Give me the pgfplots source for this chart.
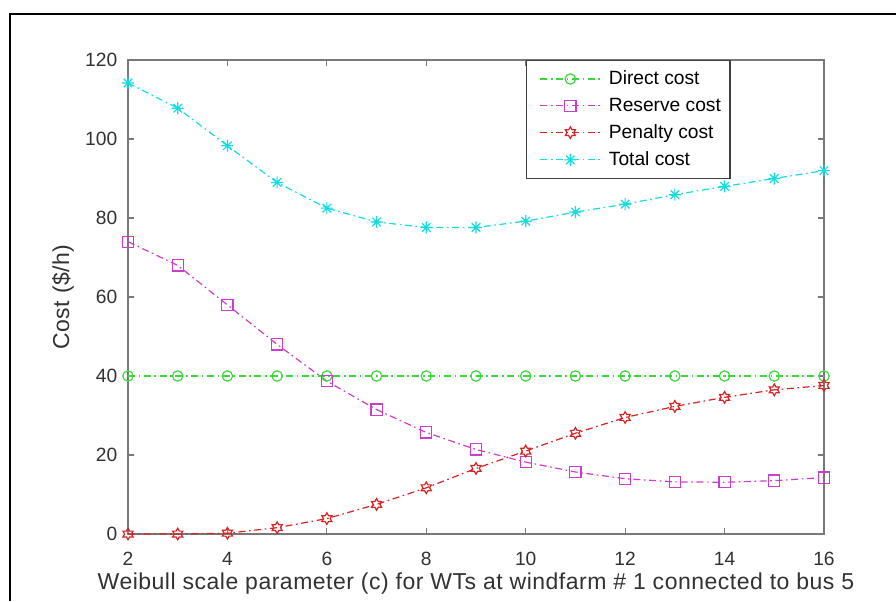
\documentclass[border=0pt]{standalone}
\usepackage{fontspec}
\setmainfont{Liberation Sans}
\newfontfamily\labelfont[LetterSpace=2.2]{Liberation Sans}
\usepackage{pgfplots}
\pgfplotsset{compat=1.18}

\definecolor{axgray}{RGB}{120,120,120}
\definecolor{lblgray}{RGB}{50,50,50}
\definecolor{cgreen}{RGB}{60,215,60}
\definecolor{cmag}{RGB}{205,60,205}
\definecolor{cred}{RGB}{215,35,35}
\definecolor{ccyan}{RGB}{20,220,225}

% six-pointed star outline
\pgfdeclareplotmark{hexagram}{%
  \pgfpathmoveto{\pgfqpointpolar{90}{\pgfplotmarksize}}%
  \pgfpathlineto{\pgfqpointpolar{120}{0.577\pgfplotmarksize}}%
  \pgfpathlineto{\pgfqpointpolar{150}{\pgfplotmarksize}}%
  \pgfpathlineto{\pgfqpointpolar{180}{0.577\pgfplotmarksize}}%
  \pgfpathlineto{\pgfqpointpolar{210}{\pgfplotmarksize}}%
  \pgfpathlineto{\pgfqpointpolar{240}{0.577\pgfplotmarksize}}%
  \pgfpathlineto{\pgfqpointpolar{270}{\pgfplotmarksize}}%
  \pgfpathlineto{\pgfqpointpolar{300}{0.577\pgfplotmarksize}}%
  \pgfpathlineto{\pgfqpointpolar{330}{\pgfplotmarksize}}%
  \pgfpathlineto{\pgfqpointpolar{0}{0.577\pgfplotmarksize}}%
  \pgfpathlineto{\pgfqpointpolar{30}{\pgfplotmarksize}}%
  \pgfpathlineto{\pgfqpointpolar{60}{0.577\pgfplotmarksize}}%
  \pgfpathclose
  \pgfusepathqstroke}
% eight-spoke asterisk
\pgfdeclareplotmark{matstar}{%
  \pgfpathmoveto{\pgfqpointpolar{0}{\pgfplotmarksize}}\pgfpathlineto{\pgfqpointpolar{180}{\pgfplotmarksize}}%
  \pgfpathmoveto{\pgfqpointpolar{90}{\pgfplotmarksize}}\pgfpathlineto{\pgfqpointpolar{270}{\pgfplotmarksize}}%
  \pgfpathmoveto{\pgfqpointpolar{45}{\pgfplotmarksize}}\pgfpathlineto{\pgfqpointpolar{225}{\pgfplotmarksize}}%
  \pgfpathmoveto{\pgfqpointpolar{135}{\pgfplotmarksize}}\pgfpathlineto{\pgfqpointpolar{315}{\pgfplotmarksize}}%
  \pgfusepathqstroke}

\tikzset{dashdot/.style={dash pattern=on 3.5pt off 1.8pt on 0.8pt off 1.8pt}}

\begin{document}
\begin{tikzpicture}
\fontsize{9.6}{11.5}\selectfont
\fill[white] (0,0) rectangle (448pt,300.5pt);
\useasboundingbox (0,0) rectangle (448pt,300.5pt);
\draw[black, line width=1pt] (5pt,0) -- (5pt,293.5pt) -- (448pt,293.5pt);
\begin{axis}[
  at={(64pt,33.5pt)}, anchor=south west,
  scale only axis, width=348pt, height=237pt,
  xmin=2, xmax=16, ymin=0, ymax=120,
  xtick={2,4,...,16}, ytick={0,20,...,120},
  tick align=inside, major tick length=3pt,
  axis line style={axgray, line width=0.6pt},
  every tick/.style={axgray, line width=0.6pt},
  tick label style={font=\fontsize{9.6}{11.5}\selectfont, text=lblgray},
  /pgf/number format/assume math mode=true,
  xticklabel style={yshift=-5.5pt},
  yticklabel style={xshift=-2pt},
  xlabel={Weibull scale parameter (c) for WTs at windfarm \# 1 connected to bus 5},
  ylabel={Cost (\$/h)},
  label style={font=\labelfont\fontsize{11.5}{13}\selectfont, text=lblgray},
  xlabel style={at={(axis description cs:0.5,-0.118)}, anchor=base},
  ylabel style={at={(axis description cs:-0.0934,0.5)}, anchor=center},
  legend style={at={(0.572,1)}, anchor=north west, draw=black!75, line width=0.6pt,
    font=\fontsize{9.6}{11.5}\selectfont, inner xsep=2.5pt, inner ysep=3pt,
    row sep=1.2pt, nodes={inner sep=2pt, text=black}},
  legend cell align=left,
  legend image code/.code={%
    \path (0pt,0pt) (36pt,0pt);
    \draw[mark repeat=2, mark phase=2, #1] plot coordinates {(4pt,0pt) (19pt,0pt) (34pt,0pt)};},
  every axis plot/.append style={line width=0.6pt, dashdot, mark options={solid}},
]
\addplot[cgreen, mark=o, mark size=2.6pt] coordinates {
 (2,40) (3,40) (4,40) (5,40) (6,40) (7,40) (8,40) (9,40) (10,40) (11,40) (12,40) (13,40) (14,40) (15,40) (16,40)};
\addlegendentry{Direct cost}
\addplot[cmag, mark=square, mark size=2.8pt] coordinates {
 (2,74) (3,68) (4,58) (5,48) (6,38.7) (7,31.5) (8,25.7) (9,21.4) (10,18.2) (11,15.7) (12,14) (13,13.2) (14,13.1) (15,13.5) (16,14.3)};
\addlegendentry{Reserve cost}
\addplot[cred, mark=hexagram, mark size=2.9pt] coordinates {
 (2,0) (3,0) (4,0.2) (5,1.6) (6,3.9) (7,7.5) (8,11.7) (9,16.6) (10,21) (11,25.5) (12,29.5) (13,32.3) (14,34.6) (15,36.5) (16,37.6)};
\addlegendentry{Penalty cost}
\addplot[ccyan, mark=matstar, mark size=3pt] coordinates {
 (2,114.2) (3,107.8) (4,98.3) (5,89) (6,82.5) (7,79) (8,77.6) (9,77.6) (10,79.2) (11,81.5) (12,83.5) (13,85.9) (14,88) (15,90) (16,92)};
\addlegendentry{Total cost}
\end{axis}
\end{tikzpicture}
\end{document}
